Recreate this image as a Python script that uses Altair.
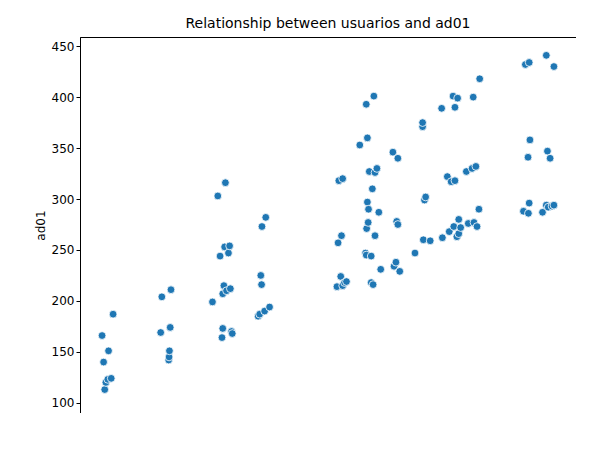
import altair as alt
import pandas as pd

usuarios = [818, 822, 825, 828, 833, 835, 842, 847,
            975, 972, 993, 994, 995, 997, 999,
            1108, 1122, 1128, 1133, 1135, 1135, 1138, 1140, 1142, 1145, 1150, 1153, 1155, 1158, 1160,
            1228, 1232, 1235, 1237, 1238, 1245, 1248, 1258,
            1435, 1438, 1440, 1445, 1447, 1450, 1450, 1455, 1460,
            1495, 1510, 1512, 1512, 1513, 1515, 1515, 1517, 1518, 1520, 1525, 1525, 1528, 1530,
            1532, 1535, 1535, 1540, 1545, 1550,
            1582, 1585, 1590, 1592, 1595, 1595, 1600, 1640, 1660, 1660, 1662, 1665, 1668, 1680,
            1710, 1712, 1725, 1730, 1735, 1740, 1742, 1745, 1745, 1750, 1752, 1755, 1755, 1760,
            1775, 1780, 1790, 1793, 1795, 1800, 1803, 1808, 1810,
            1925, 1930, 1940, 1938, 1940, 1937, 1942, 1975, 1985, 1985, 1988, 1990, 1995, 2000,
            2005, 2005]
ad01 = [166, 140, 113, 120, 123, 151, 124, 187,
        204, 169, 142, 145, 151, 174, 211,
        199, 303, 244, 164, 173, 207, 215, 253, 316, 210, 247, 254, 212, 170, 168,
        185, 187, 225, 216, 273, 190, 282, 194,
        214, 257, 318, 224, 264, 320, 215, 218, 219,
        353, 247, 245, 393, 271, 360, 297, 277, 290, 327, 244, 218, 310, 216,
        401, 264, 326, 330, 287, 231,
        346, 234, 238, 278, 340, 275, 229, 247, 371, 375, 260, 299, 302, 259,
        389, 262, 322, 268, 317, 401, 273, 318, 390, 263, 399, 280, 266, 272,
        327, 276, 330, 400, 277, 332, 273, 290, 418,
        288, 432, 434, 286, 296, 341, 358, 287, 441, 294, 347, 292, 340, 293,
        294, 430]

df = pd.DataFrame({"usuarios": usuarios, "ad01": ad01})

axis_style = dict(grid=False, domainColor="black", tickColor="black", labelColor="black",
                  titleColor="black", labelFontSize=12, titleFontSize=12,
                  titleFontWeight="normal", labelFont="DejaVu Sans", titleFont="DejaVu Sans",
                  tickSize=4, format="d")

chart = alt.Chart(df).mark_point(filled=True, size=60, color="#1f77b4", opacity=1,
                                 stroke="white", strokeWidth=0.8).encode(
    x=alt.X("usuarios:Q", scale=alt.Scale(domain=[760, 2063], nice=False, zero=False),
            axis=alt.Axis(values=[800, 1000, 1200, 1400, 1600, 1800, 2000], **axis_style)),
    y=alt.Y("ad01:Q", scale=alt.Scale(domain=[90, 459], nice=False, zero=False),
            axis=alt.Axis(values=[100, 150, 200, 250, 300, 350, 400, 450], **axis_style)),
).properties(
    width=496, height=376,
    autosize=alt.AutoSizeParams(type="none"),
    padding={"left": 72, "top": 29, "right": 0, "bottom": 0},
    title=alt.Title("Relationship between usuarios and ad01", font="DejaVu Sans",
                    fontSize=14, fontWeight="normal", color="black", offset=6),
).configure_view(stroke="black", strokeWidth=1)

chart.save("out.html", embed_options={"renderer": "svg", "actions": False})
